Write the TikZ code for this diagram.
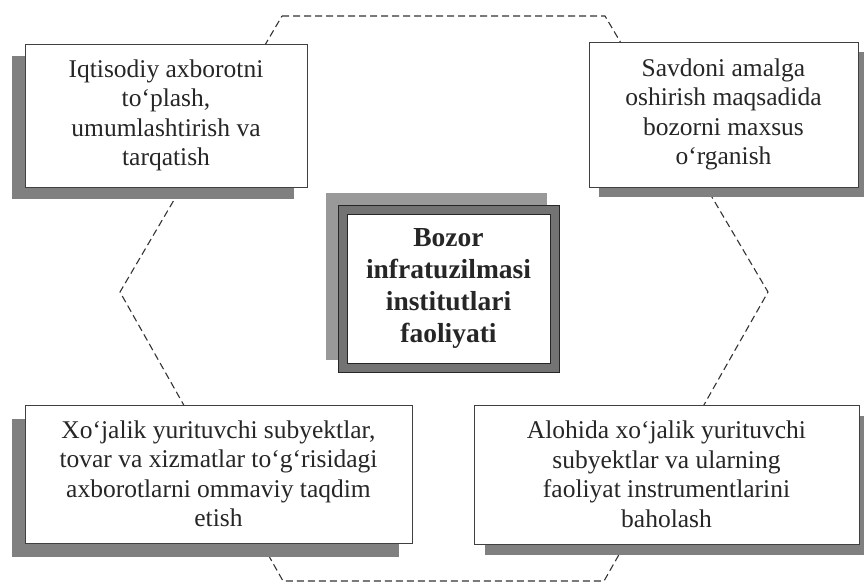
\documentclass[tikz,border=0pt]{standalone}
\usepackage{fontspec}
\setmainfont{Liberation Serif}
\usetikzlibrary{shadows}
\begin{document}
\begin{tikzpicture}[x=1pt,y=-1pt,
  box/.style={draw=black!75, line width=0.9pt, fill=white, align=center, inner sep=0pt,
    font=\fontsize{25.5}{29.5}\selectfont, text=black!85},
  shleft/.style={drop shadow={shadow xshift=-13pt, shadow yshift=-12pt, fill=black!50, opacity=1}},
  shright/.style={drop shadow={shadow xshift=10pt, shadow yshift=-10pt, fill=black!50, opacity=1}},
  hexline/.style={draw=black!80, line width=1.1pt, dash pattern=on 7pt off 4pt}]
\useasboundingbox (0,0) rectangle (864,584);
% hexagon
\coordinate (h1) at (282,16);
\coordinate (h2) at (605,16);
\coordinate (h3) at (768,292);
\coordinate (h4) at (604,581);
\coordinate (h5) at (283,581);
\coordinate (h6) at (120,292);
\draw[hexline] (h1) -- (h2) -- (h3) -- (h4) -- (h5) -- (h6) -- cycle;
% boxes
\node[box, shleft, minimum width=282, minimum height=143] (tl) at (166,115.5)
  {Iqtisodiy axborotni\\to‘plash,\\umumlashtirish va\\tarqatish};
\node[box, shright, minimum width=269, minimum height=145] (tr) at (723.5,114.5)
  {Savdoni amalga\\oshirish maqsadida\\bozorni maxsus\\o‘rganish};
\node[box, drop shadow={shadow xshift=-13pt, shadow yshift=-14pt, fill=black!50, opacity=1},
  minimum width=387, minimum height=138] (bl) at (218.5,474)
  {Xo‘jalik yurituvchi subyektlar,\\tovar va xizmatlar to‘g‘risidagi\\axborotlarni ommaviy taqdim\\etish};
\node[box, drop shadow={shadow xshift=11pt, shadow yshift=-11pt, fill=black!50, opacity=1},
  minimum width=385, minimum height=139] (br) at (666.5,474.5)
  {Alohida xo‘jalik yurituvchi\\subyektlar va ularning\\faoliyat instrumentlarini\\baholash};
% centre
\node[draw=black!85, line width=1pt, fill=black!55, minimum width=221, minimum height=167,
  inner sep=0pt, drop shadow={shadow xshift=-12pt, shadow yshift=12pt, fill=black!40, opacity=1}]
  (cframe) at (448.5,288.5) {};
\node[draw=black!85, line width=1pt, fill=white, minimum width=203, minimum height=149,
  inner sep=0pt, align=center, font=\bfseries\fontsize{27.5}{32}\selectfont, text=black!85]
  (ctext) at (cframe.center) {Bozor\\infratuzilmasi\\institutlari\\faoliyati};
\end{tikzpicture}
\end{document}
